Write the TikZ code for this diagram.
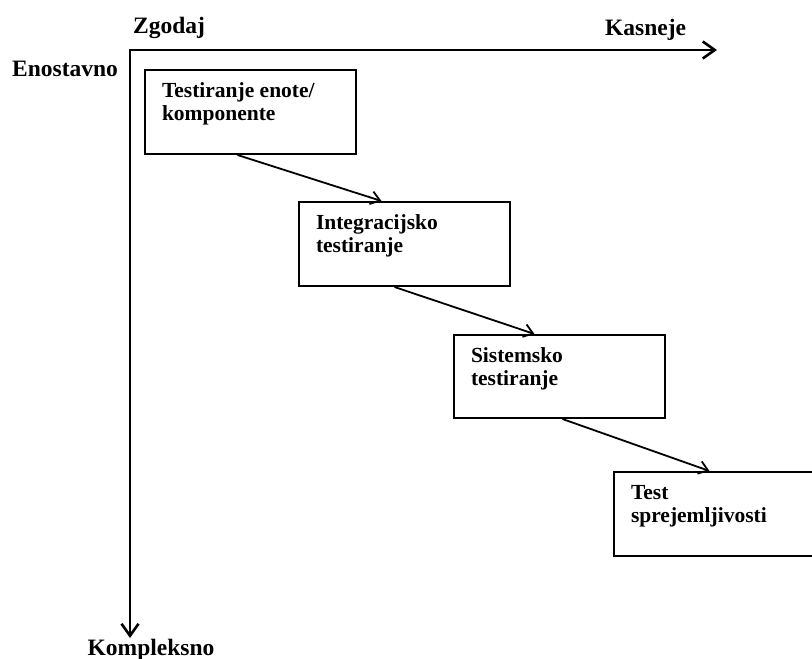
\documentclass[tikz,border=0pt]{standalone}
\usepackage{fontspec}
\setmainfont{Liberation Serif}
\usetikzlibrary{positioning,arrows.meta}

\begin{document}
\begin{tikzpicture}[x=1pt,y=-1pt,
    axis/.style={line width=2.6pt},
    axlabel/.style={anchor=base west,inner sep=0pt,font=\fontsize{23.5}{26}\selectfont\bfseries},
    phase/.style={draw,line width=2pt,anchor=north west,inner xsep=17pt,inner ysep=13pt,
      font=\fontsize{21.5}{23}\selectfont\bfseries},
    flow/.style={line width=1.8pt,-{Straight Barb[length=9pt,width=13pt]}}]
  \useasboundingbox (0,0) rectangle (812,659);
  \coordinate (origin) at (130,50);
  \coordinate (late) at (717,50);
  \coordinate (complex) at (130,638);
  \draw[axis,{Straight Barb[length=12pt,width=17pt]}-{Straight Barb[length=12pt,width=17pt]}]
    (complex) -- (origin) -- (late);
  \node[axlabel] (early) at (133,33) {Zgodaj};
  \node[axlabel] (latelbl) at (605,35) {Kasneje};
  \node[axlabel] (simple) at (12,76) {Enostavno};
  \node[axlabel,anchor=base] (complexlbl) at (151,655) {Kompleksno};

  \node[phase] (unit) at (144,69) {\parbox[t][58pt][t]{177pt}{Testiranje enote/\\komponente}};
  \node[phase] (integ) at (298,201) {\parbox[t][58pt][t]{177pt}{Integracijsko\\testiranje}};
  \node[phase] (system) at (453,334) {\parbox[t][57pt][t]{177pt}{Sistemsko\\testiranje}};
  \node[phase] (accept) at (613,471) {\parbox[t][58pt][t]{177pt}{Test\\sprejemljivosti}};

  \draw[flow] ([xshift=-13pt]unit.south) -- ([xshift=-23pt]integ.north);
  \draw[flow] ([xshift=-10pt]integ.south) -- ([xshift=-25pt]system.north);
  \draw[flow] ([xshift=3pt]system.south) -- ([xshift=-10pt]accept.north);
\end{tikzpicture}
\end{document}
